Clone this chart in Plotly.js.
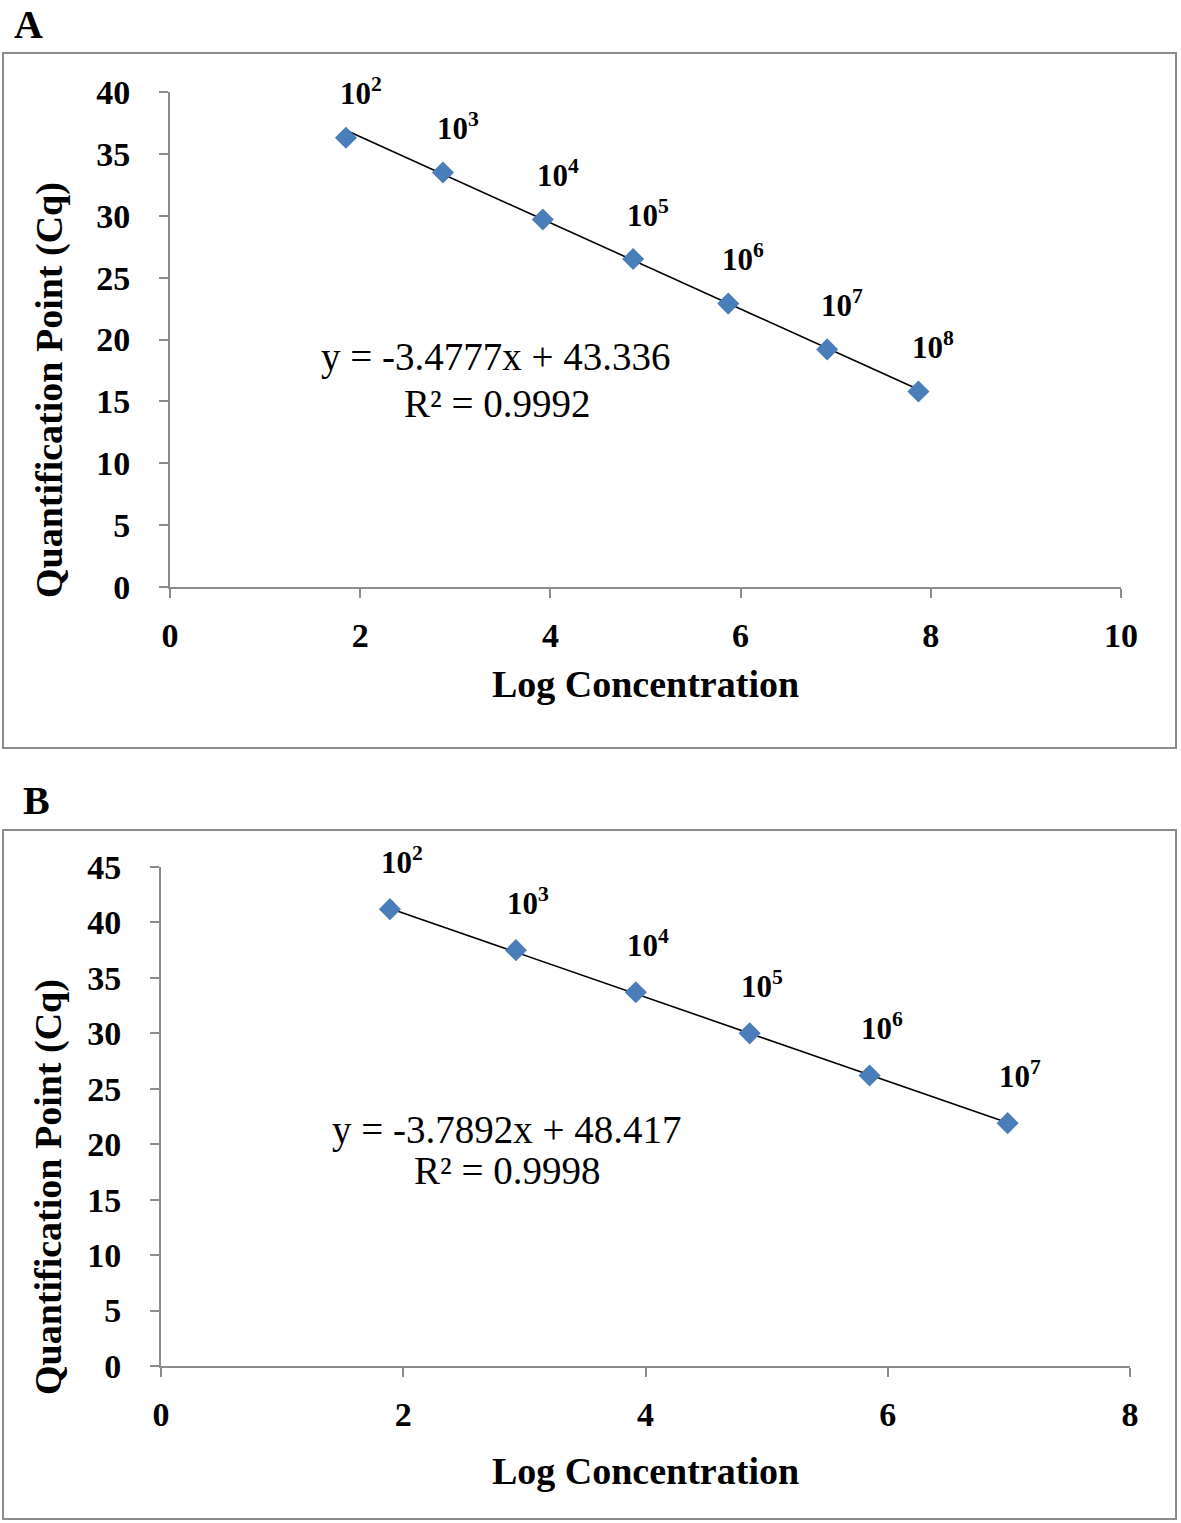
<!DOCTYPE html>
<html>
<head>
<meta charset="utf-8">
<script src="https://cdn.plot.ly/plotly-3.0.1.min.js"></script>
<style>html,body{margin:0;padding:0;background:#fff;}#chart{width:1181px;height:1523px;}</style>
</head>
<body>
<div id="chart"></div>
<script>
// Panel A data
var logA = [1.85, 2.87, 3.92, 4.87, 5.87, 6.91, 7.87];
var cqA = [36.3, 33.5, 29.7, 26.5, 22.9, 19.2, 15.8];
var labelsA = ['10<sup>2</sup>', '10<sup>3</sup>', '10<sup>4</sup>', '10<sup>5</sup>', '10<sup>6</sup>', '10<sup>7</sup>', '10<sup>8</sup>'];
var slopeA = -3.4777, interceptA = 43.336;
var eqA = ['y = -3.4777x + 43.336', 'R² = 0.9992'];

// Panel B data
var logB = [1.89, 2.93, 3.92, 4.86, 5.85, 6.99];
var cqB = [41.2, 37.5, 33.7, 30.0, 26.2, 21.9];
var labelsB = ['10<sup>2</sup>', '10<sup>3</sup>', '10<sup>4</sup>', '10<sup>5</sup>', '10<sup>6</sup>', '10<sup>7</sup>'];
var slopeB = -3.7892, interceptB = 48.417;
var eqB = ['y = -3.7892x + 48.417', 'R² = 0.9998'];

var xTitle = 'Log Concentration';
var yTitle = 'Quantification Point (Cq)';

var W = 1181, H = 1523;
function px(x){return x / W;}
function py(y){return 1 - y / H;}

var serif = 'Liberation Serif, Times New Roman, serif';
var blue = '#4a7ebb';

function trend(xs, m, b){
  var x0 = Math.min.apply(null, xs), x1 = Math.max.apply(null, xs);
  return {x: [x0, x1], y: [m * x0 + b, m * x1 + b]};
}
var tA = trend(logA, slopeA, interceptA);
var tB = trend(logB, slopeB, interceptB);

var data = [
  {x: tA.x, y: tA.y, mode: 'lines', line: {color: '#000', width: 1.6}, xaxis: 'x', yaxis: 'y', hoverinfo: 'skip'},
  {x: logA, y: cqA, mode: 'markers', marker: {symbol: 'diamond', size: 17, color: blue}, xaxis: 'x', yaxis: 'y'},
  {x: tB.x, y: tB.y, mode: 'lines', line: {color: '#000', width: 1.6}, xaxis: 'x2', yaxis: 'y2', hoverinfo: 'skip'},
  {x: logB, y: cqB, mode: 'markers', marker: {symbol: 'diamond', size: 17, color: blue}, xaxis: 'x2', yaxis: 'y2'}
];

var tickFont = {family: serif, size: 34, color: '#000', weight: 'bold'};
var axCommon = {
  showgrid: false, zeroline: false, showline: true, linecolor: '#8c8c8c', linewidth: 2,
  ticks: 'outside', ticklen: 9, tickwidth: 2, tickcolor: '#8c8c8c', tickfont: tickFont,
  fixedrange: true
};
function ax(extra){ return Object.assign({}, axCommon, extra); }

function paperAnn(x, y, text, font, extra){
  return Object.assign({x: px(x), y: py(y), xref: 'paper', yref: 'paper', xanchor: 'center', yanchor: 'middle',
    text: text, showarrow: false, font: font}, extra || {});
}

var annotations = [];
labelsA.forEach(function(t, i){
  annotations.push({x: logA[i], y: cqA[i], xref: 'x', yref: 'y', text: t, showarrow: false,
    xanchor: 'center', yanchor: 'middle',
    xshift: 15, yshift: 46, font: {family: serif, size: 31, color: '#000', weight: 'bold'}});
});
labelsB.forEach(function(t, i){
  annotations.push({x: logB[i], y: cqB[i], xref: 'x2', yref: 'y2', text: t, showarrow: false,
    xanchor: 'center', yanchor: 'middle',
    xshift: 12, yshift: 49, font: {family: serif, size: 31, color: '#000', weight: 'bold'}});
});
var eqFont = {family: serif, size: 39, color: '#000'};
annotations.push(paperAnn(495, 357, eqA[0], eqFont));
annotations.push(paperAnn(497, 403, eqA[1], eqFont));
annotations.push(paperAnn(506, 1130, eqB[0], eqFont));
annotations.push(paperAnn(507, 1170, eqB[1], eqFont));
var yTitleFont = {family: serif, size: 38, color: '#000', weight: 'bold'};
annotations.push(paperAnn(50, 390, yTitle, yTitleFont, {textangle: -90}));
annotations.push(paperAnn(48, 1187, yTitle, yTitleFont, {textangle: -90}));
var letterFont = {family: serif, size: 40, color: '#000', weight: 'bold'};
annotations.push(paperAnn(29, 24, 'A', letterFont));
annotations.push(paperAnn(36, 800, 'B', letterFont));

var shapes = [
  {type: 'rect', xref: 'paper', yref: 'paper', x0: px(3), x1: px(1176), y0: py(53), y1: py(748), line: {color: '#8c8c8c', width: 2}},
  {type: 'rect', xref: 'paper', yref: 'paper', x0: px(3), x1: px(1176), y0: py(830), y1: py(1519), line: {color: '#8c8c8c', width: 2}}
];

var titleFont = {family: serif, size: 38, color: '#000', weight: 'bold'};

var layout = {
  width: W, height: H,
  margin: {l: 0, r: 0, t: 0, b: 0},
  paper_bgcolor: '#fff', plot_bgcolor: '#fff',
  showlegend: false,
  xaxis: ax({domain: [px(170), px(1121)], range: [0, 10], dtick: 2, anchor: 'y', ticklabelstandoff: 8,
    title: {text: xTitle, font: titleFont, standoff: 18}}),
  yaxis: ax({domain: [py(587), py(92)], range: [0, 40], dtick: 5, anchor: 'x', ticklabelstandoff: 22}),
  xaxis2: ax({domain: [px(161), px(1130)], range: [0, 8], dtick: 2, anchor: 'y2', ticklabelstandoff: 8,
    title: {text: xTitle, font: titleFont, standoff: 26}}),
  yaxis2: ax({domain: [py(1366), py(867)], range: [0, 45], dtick: 5, anchor: 'x2', ticklabelstandoff: 22}),
  annotations: annotations,
  shapes: shapes
};

Plotly.newPlot('chart', data, layout, {displayModeBar: false, staticPlot: true});
</script>
</body>
</html>
